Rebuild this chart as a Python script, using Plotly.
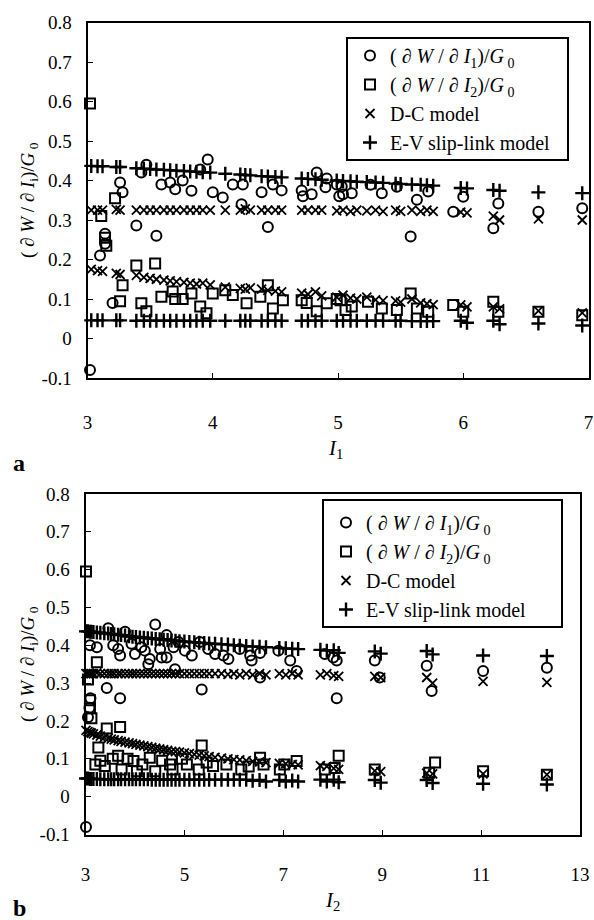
import plotly.graph_objects as go

W, H = 594, 920
FONT = "Liberation Serif"

# ---------------- panel a : plotted against I1 ----------------
circ_a_x = [3.02, 3.10, 3.14, 3.14, 3.20, 3.26, 3.28, 3.39, 3.43, 3.47, 3.55, 3.59, 3.66, 3.70, 3.76,
            3.83, 3.90, 3.96, 4.00, 4.08, 4.16, 4.23, 4.24, 4.39, 4.44, 4.48, 4.55, 4.71, 4.72, 4.79,
            4.83, 4.90, 4.91, 4.99, 5.01, 5.03, 5.04, 5.11, 5.26, 5.35, 5.47, 5.58, 5.63, 5.72, 5.92,
            6.00, 6.24, 6.28, 6.60, 6.95]
circ_a_y = [-0.08, 0.21, 0.24, 0.265, 0.09, 0.395, 0.37, 0.286, 0.42, 0.44, 0.26, 0.39, 0.395, 0.378, 0.40,
            0.374, 0.428, 0.453, 0.37, 0.357, 0.39, 0.34, 0.39, 0.37, 0.282, 0.39, 0.375, 0.375, 0.36, 0.365,
            0.42, 0.383, 0.405, 0.39, 0.36, 0.385, 0.365, 0.368, 0.389, 0.368, 0.384, 0.258, 0.351, 0.372, 0.321,
            0.359, 0.279, 0.342, 0.321, 0.33]

sq_a_x = [3.02, 3.11, 3.14, 3.15, 3.22, 3.26, 3.28, 3.39, 3.43, 3.47, 3.54, 3.59, 3.68, 3.70, 3.76,
          3.83, 3.90, 3.95, 4.00, 4.10, 4.16, 4.27, 4.38, 4.44, 4.48, 4.56, 4.71, 4.75, 4.83, 4.91,
          4.99, 5.02, 5.06, 5.11, 5.24, 5.35, 5.47, 5.58, 5.63, 5.72, 5.92, 6.00, 6.24, 6.28, 6.60, 6.95]
sq_a_y = [0.595, 0.31, 0.255, 0.235, 0.355, 0.094, 0.135, 0.185, 0.089, 0.069, 0.19, 0.106, 0.119, 0.10, 0.10,
          0.114, 0.081, 0.064, 0.114, 0.122, 0.11, 0.089, 0.106, 0.135, 0.076, 0.097, 0.097, 0.09, 0.069, 0.089,
          0.10, 0.097, 0.072, 0.081, 0.093, 0.076, 0.072, 0.114, 0.076, 0.068, 0.085, 0.068, 0.093, 0.068, 0.068, 0.059]

model_a_x = [3.03, 3.08, 3.12, 3.23, 3.26, 3.39, 3.45, 3.50, 3.55, 3.61, 3.66, 3.71, 3.77, 3.82, 3.87, 3.92,
             3.98, 4.10, 4.22, 4.26, 4.30, 4.39, 4.44, 4.50, 4.55, 4.71, 4.76, 4.82, 4.87, 4.99, 5.04, 5.10,
             5.15, 5.23, 5.30, 5.36, 5.46, 5.50, 5.59, 5.66, 5.71, 5.76, 5.98, 6.03, 6.24, 6.29, 6.60, 6.95]
dc1_a = [0.325, 0.325, 0.325, 0.327, 0.325, 0.325, 0.325, 0.325, 0.325, 0.325, 0.325, 0.325, 0.325, 0.325,
         0.325, 0.325, 0.325, 0.325, 0.325, 0.328, 0.325, 0.325, 0.325, 0.325, 0.325, 0.325, 0.325, 0.325,
         0.325, 0.323, 0.325, 0.322, 0.325, 0.323, 0.325, 0.322, 0.325, 0.322, 0.325, 0.322, 0.325, 0.322,
         0.320, 0.318, 0.310, 0.300, 0.303, 0.300]
dc2_a = [0.175, 0.172, 0.170, 0.165, 0.162, 0.160, 0.155, 0.152, 0.150, 0.148, 0.146, 0.144, 0.142, 0.140,
         0.138, 0.140, 0.136, 0.130, 0.127, 0.125, 0.128, 0.125, 0.122, 0.120, 0.118, 0.115, 0.112, 0.118,
         0.108, 0.105, 0.110, 0.102, 0.100, 0.105, 0.098, 0.096, 0.095, 0.092, 0.100, 0.090, 0.088, 0.086,
         0.085, 0.080, 0.080, 0.075, 0.070, 0.065]
ev1_a = [0.437, 0.436, 0.436, 0.434, 0.434, 0.431, 0.430, 0.429, 0.428, 0.427, 0.426, 0.425, 0.424, 0.423,
         0.422, 0.421, 0.420, 0.417, 0.415, 0.414, 0.413, 0.411, 0.410, 0.409, 0.408, 0.405, 0.404, 0.403,
         0.402, 0.400, 0.399, 0.398, 0.397, 0.396, 0.395, 0.394, 0.392, 0.391, 0.390, 0.389, 0.388, 0.387,
         0.381, 0.380, 0.376, 0.374, 0.370, 0.368]
ev2_a = [0.046, 0.046, 0.046, 0.046, 0.046, 0.045, 0.045, 0.045, 0.045, 0.045, 0.045, 0.045, 0.045, 0.045,
         0.045, 0.045, 0.045, 0.045, 0.045, 0.045, 0.045, 0.045, 0.045, 0.045, 0.045, 0.045, 0.045, 0.045,
         0.045, 0.045, 0.045, 0.045, 0.045, 0.045, 0.045, 0.045, 0.045, 0.045, 0.044, 0.044, 0.044, 0.044,
         0.045, 0.040, 0.045, 0.036, 0.038, 0.033]

# ---------------- panel b : plotted against I2 ----------------
circ_b_x = [3.01, 3.05, 3.08, 3.10, 3.09, 3.23, 3.46, 3.43, 3.70, 3.56, 3.66, 3.70, 3.80, 3.93, 4.00,
            4.13, 4.20, 4.27, 4.30, 4.41, 4.51, 4.54, 4.64, 4.64, 4.78, 4.81, 4.88, 5.01, 5.15, 5.31,
            5.35, 5.48, 5.62, 5.79, 5.89, 6.12, 6.33, 6.36, 6.53, 6.53, 6.90, 7.14, 7.27, 7.84, 8.01,
            8.08, 8.08, 8.85, 8.95, 9.90, 10.00, 11.04, 12.33]
circ_b_y = [-0.08, 0.21, 0.235, 0.26, 0.40, 0.395, 0.445, 0.287, 0.26, 0.40, 0.39, 0.373, 0.436, 0.404, 0.377,
            0.395, 0.386, 0.35, 0.364, 0.455, 0.39, 0.368, 0.427, 0.368, 0.395, 0.337, 0.409, 0.386, 0.373, 0.409,
            0.283, 0.39, 0.377, 0.373, 0.364, 0.39, 0.373, 0.36, 0.38, 0.315, 0.386, 0.36, 0.332, 0.377, 0.368,
            0.36, 0.26, 0.36, 0.315, 0.346, 0.279, 0.332, 0.341]

sq_b_x = [3.01, 3.05, 3.09, 3.09, 3.12, 3.23, 3.43, 3.70, 3.26, 3.20, 3.39, 3.66, 3.73, 3.97, 4.04,
          4.30, 4.41, 4.71, 4.76, 5.05, 5.29, 5.35, 5.58, 5.85, 6.15, 6.53, 6.60, 6.93, 7.27, 7.84,
          8.12, 8.04, 8.85, 10.07, 9.95, 11.04, 12.33, 3.30, 3.55, 3.85, 4.15, 4.55, 4.95, 5.45, 6.30, 7.02]
sq_b_y = [0.595, 0.31, 0.255, 0.234, 0.207, 0.355, 0.18, 0.184, 0.13, 0.085, 0.081, 0.108, 0.072, 0.094, 0.067,
          0.103, 0.067, 0.085, 0.072, 0.085, 0.072, 0.135, 0.081, 0.085, 0.072, 0.103, 0.085, 0.072, 0.094, 0.072,
          0.108, 0.076, 0.072, 0.09, 0.063, 0.067, 0.058, 0.095, 0.10, 0.10, 0.085, 0.095, 0.10, 0.09, 0.08, 0.085]

model_b_x = [3.01, 3.05, 3.09, 3.12, 3.16, 3.23, 3.30, 3.38, 3.46, 3.52, 3.58, 3.66, 3.72, 3.80, 3.88,
             3.95, 4.02, 4.10, 4.18, 4.26, 4.34, 4.42, 4.50, 4.58, 4.66, 4.74, 4.82, 4.90, 5.00, 5.10,
             5.20, 5.30, 5.40, 5.50, 5.62, 5.75, 5.88, 6.00, 6.12, 6.25, 6.38, 6.52, 6.65, 6.92, 7.05,
             7.18, 7.30, 7.75, 7.88, 8.02, 8.12, 8.85, 8.97, 9.90, 10.02, 11.04, 12.33]
dc1_b = [0.325, 0.325, 0.325, 0.325, 0.325, 0.327, 0.325, 0.325, 0.325, 0.325, 0.325, 0.325, 0.325, 0.325,
         0.325, 0.325, 0.325, 0.325, 0.325, 0.325, 0.325, 0.325, 0.325, 0.325, 0.325, 0.325, 0.325, 0.325,
         0.325, 0.325, 0.325, 0.325, 0.325, 0.325, 0.325, 0.325, 0.323, 0.325, 0.322, 0.325, 0.322, 0.325,
         0.322, 0.325, 0.322, 0.325, 0.322, 0.322, 0.325, 0.320, 0.318, 0.318, 0.315, 0.315, 0.300, 0.305, 0.302]
dc2_b = [0.175, 0.172, 0.170, 0.168, 0.166, 0.163, 0.160, 0.157, 0.154, 0.152, 0.150, 0.148, 0.146, 0.144,
         0.142, 0.140, 0.138, 0.136, 0.134, 0.132, 0.130, 0.128, 0.126, 0.124, 0.122, 0.120, 0.119, 0.118,
         0.116, 0.114, 0.112, 0.110, 0.108, 0.106, 0.104, 0.102, 0.100, 0.098, 0.097, 0.095, 0.093, 0.092,
         0.090, 0.088, 0.087, 0.085, 0.084, 0.082, 0.080, 0.075, 0.072, 0.068, 0.066, 0.062, 0.060, 0.060, 0.058]
ev1_b = [0.437, 0.437, 0.436, 0.436, 0.435, 0.434, 0.433, 0.432, 0.431, 0.430, 0.429, 0.428, 0.427, 0.426,
         0.424, 0.423, 0.422, 0.421, 0.420, 0.419, 0.418, 0.417, 0.416, 0.415, 0.414, 0.413, 0.412, 0.411,
         0.410, 0.409, 0.408, 0.407, 0.406, 0.405, 0.404, 0.403, 0.402, 0.400, 0.399, 0.398, 0.397, 0.396,
         0.395, 0.393, 0.392, 0.391, 0.390, 0.388, 0.386, 0.387, 0.380, 0.384, 0.378, 0.385, 0.376, 0.373, 0.372]
ev2_b = [0.048, 0.048, 0.047, 0.047, 0.047, 0.047, 0.046, 0.046, 0.046, 0.046, 0.046, 0.046, 0.046, 0.046,
         0.046, 0.046, 0.046, 0.046, 0.046, 0.046, 0.045, 0.045, 0.045, 0.045, 0.045, 0.045, 0.045, 0.045,
         0.045, 0.045, 0.045, 0.045, 0.045, 0.045, 0.045, 0.045, 0.045, 0.045, 0.045, 0.045, 0.042, 0.044,
         0.040, 0.044, 0.040, 0.043, 0.040, 0.045, 0.040, 0.045, 0.038, 0.044, 0.037, 0.044, 0.036, 0.034, 0.032]

y_ticks = [-0.1, 0, 0.1, 0.2, 0.3, 0.4, 0.5, 0.6, 0.7, 0.8]
y_ticktext = ["-0.1", "0", "0.1", "0.2", "0.3", "0.4", "0.5", "0.6", "0.7", "0.8"]
xa_ticks = [3, 4, 5, 6, 7]
xb_ticks = [3, 5, 7, 9, 11, 13]

name_c = "( ∂ <i>W</i> / ∂ <i>I</i><sub>1</sub>)/<i>G</i><sub> 0</sub>"
name_s = "( ∂ <i>W</i> / ∂ <i>I</i><sub>2</sub>)/<i>G</i><sub> 0</sub>"
name_dc = "D-C model"
name_ev = "E-V slip-link model"

m_circ = dict(symbol="circle-open", size=10, color="black", line=dict(width=2, color="black"))
m_sq = dict(symbol="square-open", size=10, color="black", line=dict(width=2, color="black"))
m_x = dict(symbol="x-thin-open", size=9, color="black", line=dict(width=1.8, color="black"))
m_p = dict(symbol="cross-thin-open", size=10, color="black", line=dict(width=2.4, color="black"))

fig = go.Figure()


def add_panel(xa, ya, leg, tag, cx, cy, sx, sy, mx, dc1, dc2, ev1, ev2):
    common = dict(mode="markers", xaxis=xa, yaxis=ya, legend=leg, cliponaxis=False, hoverinfo="skip")
    fig.add_trace(go.Scatter(x=cx, y=cy, marker=m_circ, name=name_c, legendgroup=tag + "c", **common))
    fig.add_trace(go.Scatter(x=sx, y=sy, marker=m_sq, name=name_s, legendgroup=tag + "s", **common))
    fig.add_trace(go.Scatter(x=mx, y=dc1, marker=m_x, name=name_dc, legendgroup=tag + "d", **common))
    fig.add_trace(go.Scatter(x=mx, y=dc2, marker=m_x, name=name_dc, legendgroup=tag + "d",
                             showlegend=False, **common))
    fig.add_trace(go.Scatter(x=mx, y=ev1, marker=m_p, name=name_ev, legendgroup=tag + "e", **common))
    fig.add_trace(go.Scatter(x=mx, y=ev2, marker=m_p, name=name_ev, legendgroup=tag + "e",
                             showlegend=False, **common))


add_panel("x", "y", "legend", "a", circ_a_x, circ_a_y, sq_a_x, sq_a_y, model_a_x, dc1_a, dc2_a, ev1_a, ev2_a)
add_panel("x2", "y2", "legend2", "b", circ_b_x, circ_b_y, sq_b_x, sq_b_y, model_b_x, dc1_b, dc2_b, ev1_b, ev2_b)


def px_x(p):
    return p / W


def px_y(p):
    return 1 - p / H


axis_common = dict(showline=True, mirror=True, linewidth=2, linecolor="black", showgrid=False,
                   zeroline=False, ticks="inside", ticklen=5, tickwidth=1, tickcolor="black",
                   automargin=False, tickfont=dict(family=FONT, size=19, color="black"))

legend_common = dict(xanchor="left", yanchor="top", bgcolor="rgba(0,0,0,0)", borderwidth=0,
                     font=dict(family=FONT, size=20, color="black"), traceorder="grouped",
                     tracegroupgap=0)

title_font = dict(family=FONT, size=19, color="black")

fig.update_layout(
    width=W, height=H, autosize=False,
    margin=dict(l=0, r=0, t=0, b=0),
    paper_bgcolor="white", plot_bgcolor="white",
    font=dict(family=FONT, color="black"),
    xaxis=dict(domain=[px_x(87.5), px_x(588.5)], range=[3, 7], tickvals=xa_ticks, anchor="y",
               ticklabelstandoff=26, **axis_common),
    yaxis=dict(domain=[px_y(378), px_y(22.5)], range=[-0.1, 0.8], tickvals=y_ticks, ticktext=y_ticktext,
               anchor="x", ticklabelstandoff=10, **axis_common),
    xaxis2=dict(domain=[px_x(85.5), px_x(580)], range=[3, 13], tickvals=xb_ticks, anchor="y2",
                ticklabelstandoff=22, **axis_common),
    yaxis2=dict(domain=[px_y(834.5), px_y(494)], range=[-0.1, 0.8], tickvals=y_ticks, ticktext=y_ticktext,
                anchor="x2", ticklabelstandoff=10, **axis_common),
    legend=dict(x=px_x(350), y=px_y(36), **legend_common),
    legend2=dict(x=px_x(326), y=px_y(503), **legend_common),
    shapes=[
        dict(type="rect", xref="paper", yref="paper", x0=px_x(347), x1=px_x(568), y0=px_y(160), y1=px_y(38),
             line=dict(color="black", width=2), fillcolor="white", layer="above"),
        dict(type="rect", xref="paper", yref="paper", x0=px_x(323), x1=px_x(562), y0=px_y(627), y1=px_y(500),
             line=dict(color="black", width=2), fillcolor="white", layer="above"),
    ],
    annotations=[
        dict(xref="paper", yref="paper", x=px_x(29), y=px_y(200), textangle=-90, showarrow=False,
             xanchor="center", yanchor="middle",
             text="( ∂ <i>W</i> / ∂ <i>I</i><sub>i</sub>)/<i>G</i><sub> 0</sub>", font=title_font),
        dict(xref="paper", yref="paper", x=px_x(29), y=px_y(664), textangle=-90, showarrow=False,
             xanchor="center", yanchor="middle",
             text="( ∂ <i>W</i> / ∂ <i>I</i><sub>i</sub>)/<i>G</i><sub> 0</sub>", font=title_font),
        dict(xref="paper", yref="paper", x=px_x(335), y=px_y(449), showarrow=False,
             xanchor="center", yanchor="middle",
             text="<i>I</i><sub>1</sub>", font=dict(family=FONT, size=21, color="black")),
        dict(xref="paper", yref="paper", x=px_x(333), y=px_y(901), showarrow=False,
             xanchor="center", yanchor="middle",
             text="<i>I</i><sub>2</sub>", font=dict(family=FONT, size=21, color="black")),
        dict(xref="paper", yref="paper", x=px_x(19), y=px_y(463), showarrow=False,
             xanchor="center", yanchor="middle",
             text="<b>a</b>", font=dict(family=FONT, size=24, color="black")),
        dict(xref="paper", yref="paper", x=px_x(19), y=px_y(908), showarrow=False,
             xanchor="center", yanchor="middle",
             text="<b>b</b>", font=dict(family=FONT, size=24, color="black")),
    ],
)

fig.write_html("out.html")
